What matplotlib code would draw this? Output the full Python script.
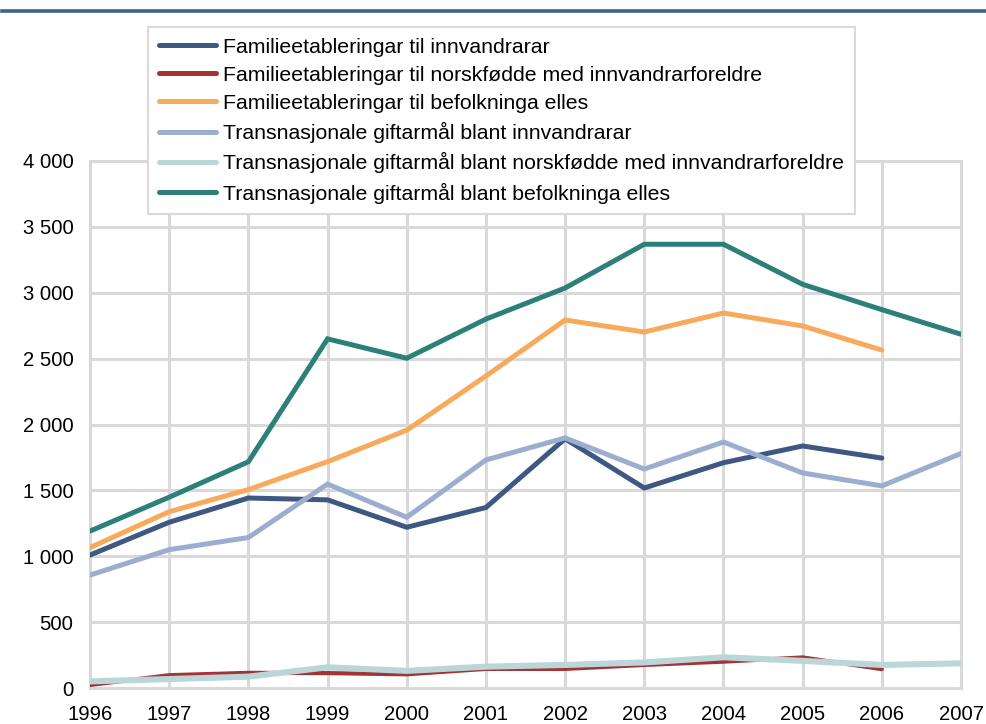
import matplotlib
matplotlib.use("Agg")
import matplotlib.pyplot as plt
from matplotlib.lines import Line2D

plt.rcParams['font.family'] = ['Liberation Sans', 'DejaVu Sans']

years = list(range(1996, 2008))

fam_innv = [1009, 1258, 1442, 1428, 1220, 1370, 1892, 1518, 1710, 1837, 1745]
fam_norskf = [23, 97, 115, 113, 104, 145, 145, 175, 200, 232, 143]
fam_elles = [1066, 1338, 1506, 1718, 1957, 2368, 2793, 2702, 2846, 2748, 2565]
trans_innv = [857, 1050, 1142, 1548, 1296, 1731, 1898, 1662, 1867, 1632, 1534, 1780]
trans_norskf = [50, 68, 86, 157, 130, 162, 175, 194, 233, 206, 175, 187]
trans_elles = [1191, 1448, 1717, 2650, 2503, 2800, 3036, 3368, 3368, 3064, 2872, 2685]

labels = [
    "Familieetableringar til innvandrarar",
    "Familieetableringar til norskfødde med innvandrarforeldre",
    "Familieetableringar til befolkninga elles",
    "Transnasjonale giftarmål blant innvandrarar",
    "Transnasjonale giftarmål blant norskfødde med innvandrarforeldre",
    "Transnasjonale giftarmål blant befolkninga elles",
]
series = [fam_innv, fam_norskf, fam_elles, trans_innv, trans_norskf, trans_elles]
colors = ["#3E5882", "#A33335", "#F8AA5C", "#9BAED0", "#BAD6D8", "#2C8079"]
widths = [3.6, 3.0, 3.6, 3.6, 4.4, 3.6]

y_ticks = list(range(0, 4001, 500))
y_ticklabels = ["0", "500", "1 000", "1 500", "2 000", "2 500", "3 000", "3 500", "4 000"]

fig = plt.figure(figsize=(9.86, 7.24), dpi=100)
ax = fig.add_axes([90 / 986, 1 - 688 / 724, (961 - 90) / 986, (688 - 161) / 724])

grid_col = "#D9D9D9"
handles = []
for vals, lab, col, lw in zip(series, labels, colors, widths):
    h, = ax.plot(years[:len(vals)], vals, color=col, lw=lw,
                 solid_capstyle='round', solid_joinstyle='miter', label=lab, zorder=3)
    handles.append(h)

ax.set_xlim(1996, 2007)
ax.set_ylim(0, 4000)
ax.set_xticks(years)
ax.set_xticklabels([str(y) for y in years], fontsize=14.6)
ax.set_yticks(y_ticks)
ax.set_yticklabels(y_ticklabels, fontsize=14.6)
ax.tick_params(axis='both', length=0, colors='black')
ax.tick_params(axis='y', pad=12)
ax.tick_params(axis='x', pad=12)
ax.grid(True, color=grid_col, lw=2.2, zorder=0)
ax.set_axisbelow(True)
for s in ax.spines.values():
    s.set_color(grid_col)
    s.set_linewidth(2.2)
    s.set_zorder(1)

legend_handles = [Line2D([], [], color=c, lw=3.6, solid_capstyle='round') for c in colors]
leg = fig.legend(handles=legend_handles, labels=labels, loc='upper left',
                 bbox_to_anchor=(148 / 986, 1 - 27 / 724),
                 fontsize=15.3, frameon=True, fancybox=False,
                 handlelength=2.7, handletextpad=0.35,
                 labelspacing=0.43, borderpad=0.5, borderaxespad=0)
leg.get_frame().set_edgecolor(grid_col)
leg.get_frame().set_linewidth(1.5)
leg.get_frame().set_alpha(1)

# rule across the top of the figure
fig.add_artist(Line2D([2 / 986, 1.0], [1 - 11 / 724, 1 - 11 / 724],
                      transform=fig.transFigure, color="#42608A", lw=2.6))

fig.savefig("out.png", dpi=100)
